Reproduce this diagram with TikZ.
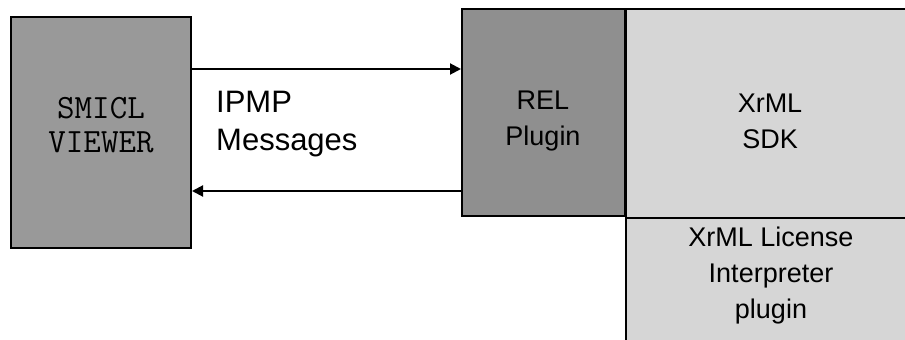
\documentclass[tikz,border=0pt]{standalone}
\usepackage{fontspec}
\setmainfont{Liberation Sans}
\usetikzlibrary{arrows.meta}
\begin{document}
\begin{tikzpicture}[x=1pt,y=-1pt,
  boxline/.style={draw=black,line width=2.5pt},
  lbl/.style={align=center,font=\fontsize{27}{36}\selectfont,inner sep=0pt},
  conn/.style={line width=2pt,-{Triangle[length=11pt,width=11pt]}}]
\useasboundingbox (0,0) rectangle (905,340);
\fill[white] (0,0) rectangle (905,340);
% boxes
\filldraw[fill=black!40,boxline] (11,17) rectangle (191,248);
\node[lbl,font=\ttfamily\fontsize{34}{34}\selectfont] (viewer) at (101,125) {SMICL\\VIEWER};
\fill[black!16] (625,9) rectangle (910,345);
\draw[boxline] (625,218) -- (910,218);
\draw[boxline] (625,9) -- (910,9);
\draw[boxline] (626,9) -- (626,345);
\filldraw[fill=black!44,boxline] (462,9) rectangle (625,216);
\node[lbl] (rel) at (543,121) {REL\\Plugin};
\node[lbl] (sdk) at (770,121) {XrML\\SDK};
\node[lbl,font=\fontsize{27}{36}\selectfont] (lic) at (771,276) {XrML License\\Interpreter\\plugin};
\coordinate (a1) at (192,69);
\coordinate (a2) at (461,69);
\coordinate (b1) at (461,191);
\coordinate (b2) at (192,191);
\draw[conn] (a1) -- (a2);
\draw[conn] (b1) -- (b2);
\node[lbl,align=left,anchor=north west,font=\fontsize{31}{38}\selectfont] (msg) at (216,91) {IPMP\\Messages};
\end{tikzpicture}
\end{document}
